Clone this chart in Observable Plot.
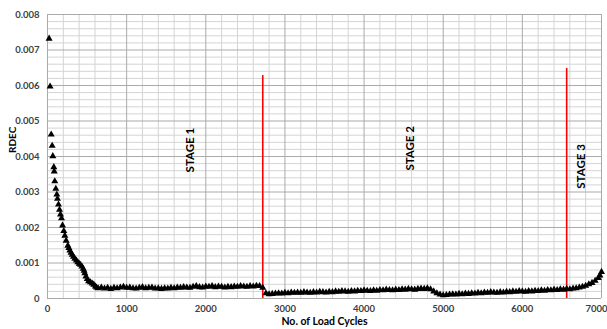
<!DOCTYPE html>
<html>
<head>
<meta charset="utf-8">
<script src="https://cdn.jsdelivr.net/npm/d3@7"></script>
<script src="https://cdn.jsdelivr.net/npm/@observablehq/plot@0.6"></script>
<style>
  html, body { margin: 0; padding: 0; background: #fff; }
  #chart svg { display: block; }
</style>
</head>
<body>
<div id="chart"></div>
<script>
// ---- Data ----
const cycles = [
  20, 33, 47, 59, 67, 80, 85, 92, 105, 118, 126, 139, 152, 164, 177, 190, 206, 219, 236, 257,
  270, 282, 297, 312, 328, 345, 365, 383, 400, 417, 435, 451, 462, 471, 485, 502, 520, 543, 565, 585,
  605, 620,
  640, 680, 720, 760, 800, 840, 880, 920, 960, 1000,
  1040, 1080, 1120, 1160, 1200, 1240, 1280, 1320, 1360, 1400,
  1440, 1480, 1520, 1560, 1600, 1640, 1680, 1720, 1760, 1800,
  1840, 1880, 1920, 1960, 2000, 2040, 2080, 2120, 2160, 2200,
  2240, 2280, 2320, 2360, 2400, 2440, 2480, 2520, 2560, 2600,
  2640, 2680, 2720, 2760, 2800, 2840, 2880, 2920, 2960, 3000,
  3040, 3080, 3120, 3160, 3200, 3240, 3280, 3320, 3360, 3400,
  3440, 3480, 3520, 3560, 3600, 3640, 3680, 3720, 3760, 3800,
  3840, 3880, 3920, 3960, 4000, 4040, 4080, 4120, 4160, 4200,
  4240, 4280, 4320, 4360, 4400, 4440, 4480, 4520, 4560, 4600,
  4640, 4680, 4720, 4760, 4800, 4840, 4880, 4920, 4960, 5000,
  5040, 5080, 5120, 5160, 5200, 5240, 5280, 5320, 5360, 5400,
  5440, 5480, 5520, 5560, 5600, 5640, 5680, 5720, 5760, 5800,
  5840, 5880, 5920, 5960, 6000, 6040, 6080, 6120, 6160, 6200,
  6240, 6280, 6320, 6360, 6400, 6440, 6480, 6520, 6560, 6600,
  6640, 6680, 6720, 6760, 6800, 6840, 6880, 6920, 6960, 6980,
  7000
];
const rdec = [
  0.00732, 0.00597, 0.00462, 0.00430, 0.00401, 0.00370, 0.00358, 0.00330, 0.00309, 0.00293,
  0.00281, 0.00265, 0.00250, 0.00237, 0.00226, 0.00206, 0.00190, 0.00177, 0.00163, 0.00149,
  0.00142, 0.00135, 0.00129, 0.00123, 0.00118, 0.00112, 0.00107, 0.00102, 0.00098, 0.00095,
  0.00090, 0.00084, 0.00078, 0.00071, 0.00062, 0.00055, 0.00049, 0.00046, 0.00042, 0.00039,
  0.00034, 0.00031,
  0.00029, 0.00031, 0.00028, 0.00030, 0.00027, 0.00030, 0.00029, 0.00031, 0.00033, 0.00030,
  0.00031, 0.00029, 0.00028, 0.00030, 0.00032, 0.00029, 0.00030, 0.00031, 0.00028, 0.00029,
  0.00027, 0.00029, 0.00028, 0.00030, 0.00029, 0.00031, 0.00030, 0.00032, 0.00031, 0.00030,
  0.00033, 0.00035, 0.00032, 0.00031, 0.00034, 0.00033, 0.00035, 0.00032, 0.00034, 0.00033,
  0.00031, 0.00033, 0.00032, 0.00034, 0.00033, 0.00035, 0.00034, 0.00033, 0.00035, 0.00034,
  0.00036, 0.00035, 0.00030, 0.00015, 0.00012, 0.00013, 0.00014, 0.00015, 0.00014, 0.00016,
  0.00015, 0.00017, 0.00016, 0.00017, 0.00016, 0.00018, 0.00017, 0.00016, 0.00018, 0.00017,
  0.00019, 0.00018, 0.00017, 0.00019, 0.00018, 0.00020, 0.00019, 0.00021, 0.00020, 0.00019,
  0.00021, 0.00020, 0.00022, 0.00021, 0.00023, 0.00022, 0.00021, 0.00023, 0.00022, 0.00024,
  0.00023, 0.00025, 0.00024, 0.00023, 0.00025, 0.00024, 0.00026, 0.00025, 0.00027, 0.00026,
  0.00025, 0.00027, 0.00028, 0.00027, 0.00029, 0.00026, 0.00020, 0.00015, 0.00011, 0.00009,
  0.00010, 0.00011, 0.00012, 0.00011, 0.00013, 0.00012, 0.00014, 0.00013, 0.00015, 0.00014,
  0.00016, 0.00015, 0.00017, 0.00016, 0.00018, 0.00017, 0.00016, 0.00018, 0.00017, 0.00019,
  0.00018, 0.00020, 0.00019, 0.00021, 0.00020, 0.00019, 0.00021, 0.00020, 0.00022, 0.00021,
  0.00023, 0.00022, 0.00024, 0.00023, 0.00025, 0.00024, 0.00026, 0.00025, 0.00027, 0.00026,
  0.00028, 0.00029, 0.00031, 0.00033, 0.00036, 0.00040, 0.00044, 0.00050, 0.00058, 0.00065,
  0.00075
];

const xTicks = [0, 1000, 2000, 3000, 4000, 5000, 6000, 7000];
const yTicks = [0, 0.001, 0.002, 0.003, 0.004, 0.005, 0.006, 0.007, 0.008];

const boundaryCycles = [2720, 6560];
const boundaryTops = [0.00628, 0.00648];

const stageLabels = ["STAGE 1", "STAGE 2", "STAGE 3"];
const stageX = [1800, 4590, 6745];
const stageY = [0.00418, 0.00423, 0.00372];

// ---- Derived tables ----
const points = cycles.map((c, i) => ({cycle: c, rdec: rdec[i]}));
const boundaries = boundaryCycles.map((c, i) => ({cycle: c, top: boundaryTops[i]}));
const stages = stageLabels.map((s, i) => ({label: s, x: stageX[i], y: stageY[i]}));

const minorX = d3.range(0, 7001, 200).filter(v => v % 1000 !== 0);
const minorY = d3.range(0, 41).map(i => i * 0.0002).filter((v, i) => i % 5 !== 0);

const chart = Plot.plot({
  width: 607,
  height: 329,
  marginLeft: 47,
  marginRight: 6,
  marginTop: 14,
  marginBottom: 31,
  style: {fontFamily: "Lato, 'Open Sans', sans-serif", background: "#fff", overflow: "visible"},
  x: {domain: [0, 7000], label: null},
  y: {domain: [0, 0.008], label: null},
  marks: [
    Plot.ruleY(minorY, {stroke: "#d4d4d4", strokeWidth: 1}),
    Plot.ruleX(minorX, {stroke: "#d4d4d4", strokeWidth: 1}),
    Plot.ruleY(yTicks, {stroke: "#aaaaaa", strokeWidth: 1}),
    Plot.ruleX(xTicks, {stroke: "#aaaaaa", strokeWidth: 1}),
    Plot.axisY(yTicks, {
      tickSize: 0, tickPadding: 8, label: null,
      tickFormat: d => d === 0 ? "0" : d.toFixed(3),
      fontSize: 9.5, fill: "#404040", fontWeight: "bold"
    }),
    Plot.axisX(xTicks.filter(d => d < 7000), {
      tickSize: 0, tickPadding: 7, label: null,
      tickFormat: d => String(d),
      fontSize: 9.5, fill: "#404040", fontWeight: "bold"
    }),
    Plot.axisX(xTicks.filter(d => d === 7000), {
      tickSize: 0, tickPadding: 7, label: null, dx: -5,
      tickFormat: d => String(d),
      fontSize: 9.5, fill: "#404040", fontWeight: "bold"
    }),
    Plot.ruleX(boundaries, {x: "cycle", y1: 0, y2: "top", stroke: "#ff0000", strokeWidth: 1.6}),
    Plot.dot(points, {x: "cycle", y: "rdec", symbol: "triangle", r: 2.6, fill: "#000", stroke: null}),
    Plot.text(stages, {x: "x", y: "y", text: "label", rotate: -90, fontSize: 11.5, fontWeight: "bold", fill: "#000"}),
    Plot.text(["RDEC"], {frameAnchor: "left", dx: -35, dy: 0, rotate: -90, fontSize: 10, fontWeight: "bold", fill: "#000", y: [0.0041]}),
    Plot.text(["No. of Load Cycles"], {x: [3500], frameAnchor: "bottom", dy: 26, fontSize: 10.5, fontWeight: "bold", fill: "#000"})
  ]
});

document.getElementById("chart").appendChild(chart);
</script>
</body>
</html>
